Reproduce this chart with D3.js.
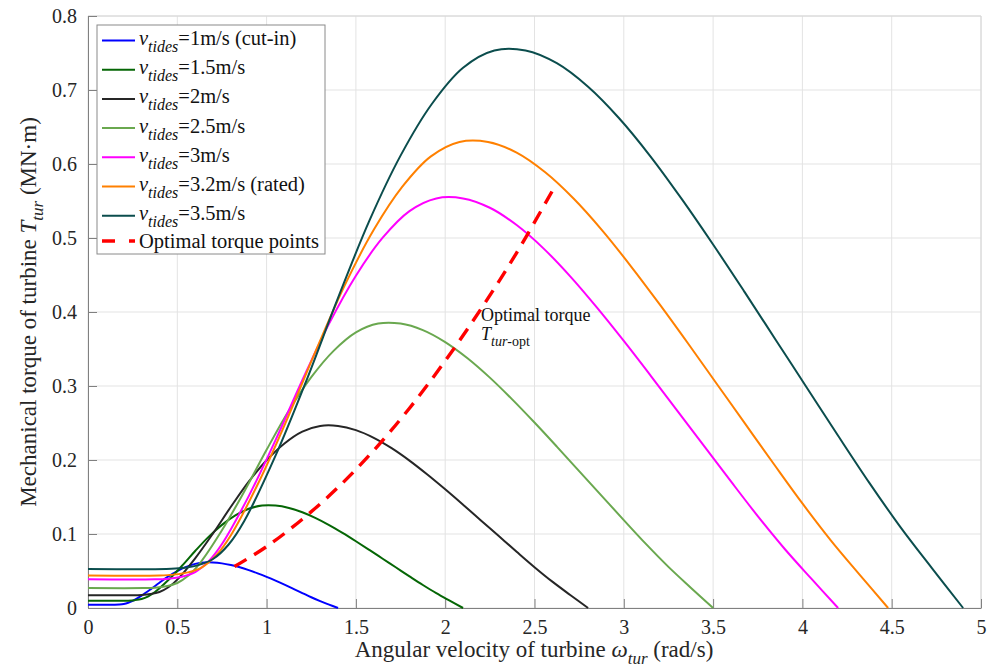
<!DOCTYPE html>
<html><head><meta charset="utf-8">
<script src="https://cdn.jsdelivr.net/npm/d3@7"></script>
<style>
body{margin:0;background:#fff;}
svg{display:block;}
</style></head><body>
<svg id="chart" width="991" height="668"></svg>
<script>
// Turbine torque curves T_tur(omega) for several tidal current speeds, [omega (rad/s), torque (MN·m)]
const curveV1 = [[0,0.0043],[0.125,0.0043],[0.15,0.0044],[0.175,0.0047],[0.2,0.0054],[0.225,0.0070],[0.25,0.0096],[0.3,0.0168],[0.35,0.0252],[0.4,0.0342],[0.45,0.0427],[0.5,0.0499],[0.55,0.0556],[0.6,0.0596],[0.65,0.0615],[0.7,0.0615],[0.75,0.0603],[0.8,0.0580],[0.85,0.0550],[0.9,0.0512],[0.95,0.0468],[1.0,0.0420],[1.05,0.0369],[1.1,0.0315],[1.15,0.0259],[1.2,0.0202],[1.25,0.0145],[1.3,0.0092],[1.35,0.0045],[1.4,0]];
const curveV15 = [[0,0.0097],[0.1875,0.0097],[0.225,0.0099],[0.2625,0.0106],[0.3,0.0122],[0.3375,0.0158],[0.375,0.0216],[0.45,0.0378],[0.525,0.0567],[0.6,0.0770],[0.675,0.0961],[0.75,0.1123],[0.825,0.1251],[0.9,0.1341],[0.975,0.1384],[1.05,0.1384],[1.125,0.1352],[1.2,0.1294],[1.275,0.1215],[1.35,0.1121],[1.425,0.1015],[1.5,0.0902],[1.575,0.0785],[1.65,0.0666],[1.725,0.0547],[1.8,0.0428],[1.875,0.0311],[1.95,0.0200],[2.025,0.0099],[2.1,0]];
const curveV2 = [[0,0.0172],[0.25,0.0172],[0.3,0.0176],[0.35,0.0188],[0.4,0.0216],[0.45,0.0280],[0.5,0.0384],[0.6,0.0672],[0.7,0.1008],[0.8,0.1368],[0.9,0.1708],[1.0,0.1996],[1.1,0.2224],[1.2,0.2384],[1.3,0.2460],[1.4,0.2460],[1.5,0.2404],[1.6,0.2300],[1.7,0.2160],[1.8,0.1992],[1.9,0.1804],[2.0,0.1604],[2.1,0.1396],[2.2,0.1184],[2.3,0.0972],[2.4,0.0760],[2.5,0.0552],[2.6,0.0356],[2.7,0.0176],[2.8,0]];
const curveV25 = [[0,0.0269],[0.3125,0.0269],[0.375,0.0275],[0.4375,0.0294],[0.5,0.0338],[0.5625,0.0438],[0.625,0.0600],[0.75,0.1050],[0.875,0.1575],[1.0,0.2138],[1.125,0.2669],[1.25,0.3119],[1.375,0.3475],[1.5,0.3725],[1.625,0.3844],[1.75,0.3844],[1.875,0.3756],[2.0,0.3594],[2.125,0.3375],[2.25,0.3113],[2.375,0.2819],[2.5,0.2506],[2.625,0.2181],[2.75,0.1850],[2.875,0.1519],[3.0,0.1188],[3.125,0.0863],[3.25,0.0556],[3.375,0.0275],[3.5,0]];
const curveV3 = [[0,0.0387],[0.375,0.0387],[0.45,0.0396],[0.525,0.0423],[0.6,0.0486],[0.675,0.0630],[0.75,0.0864],[0.9,0.1512],[1.05,0.2268],[1.2,0.3078],[1.35,0.3843],[1.5,0.4491],[1.65,0.5004],[1.8,0.5364],[1.95,0.5535],[2.1,0.5535],[2.25,0.5409],[2.4,0.5175],[2.55,0.4860],[2.7,0.4482],[2.85,0.4059],[3.0,0.3609],[3.15,0.3141],[3.3,0.2664],[3.45,0.2187],[3.6,0.1710],[3.75,0.1242],[3.9,0.0801],[4.05,0.0396],[4.2,0]];
const curveV32 = [[0,0.0440],[0.4,0.0440],[0.48,0.0451],[0.56,0.0481],[0.64,0.0553],[0.72,0.0717],[0.8,0.0983],[0.96,0.1720],[1.12,0.2581],[1.28,0.3502],[1.44,0.4373],[1.6,0.5110],[1.76,0.5693],[1.92,0.6103],[2.08,0.6298],[2.24,0.6298],[2.4,0.6154],[2.56,0.5888],[2.72,0.5530],[2.88,0.5100],[3.04,0.4618],[3.2,0.4106],[3.36,0.3574],[3.52,0.3031],[3.68,0.2488],[3.84,0.1946],[4.0,0.1413],[4.16,0.0911],[4.32,0.0451],[4.48,0]];
const curveV35 = [[0,0.0527],[0.4375,0.0527],[0.525,0.0539],[0.6125,0.0576],[0.7,0.0662],[0.7875,0.0858],[0.875,0.1176],[1.05,0.2058],[1.225,0.3087],[1.4,0.4190],[1.575,0.5231],[1.75,0.6113],[1.925,0.6811],[2.1,0.7301],[2.275,0.7534],[2.45,0.7534],[2.625,0.7362],[2.8,0.7044],[2.975,0.6615],[3.15,0.6101],[3.325,0.5525],[3.5,0.4912],[3.675,0.4275],[3.85,0.3626],[4.025,0.2977],[4.2,0.2328],[4.375,0.1691],[4.55,0.1090],[4.725,0.0539],[4.9,0]];

// Optimal torque trajectory
const optimalCurve = [[0.82,0.056],[1.0,0.083],[1.2,0.12],[1.4,0.163],[1.6,0.213],[1.8,0.27],[2.0,0.334],[2.2,0.404],[2.4,0.48],[2.61,0.568]];

const seriesData = [curveV1, curveV15, curveV2, curveV25, curveV3, curveV32, curveV35];
const speedLabels = ["=1m/s (cut-in)", "=1.5m/s", "=2m/s", "=2.5m/s", "=3m/s", "=3.2m/s (rated)", "=3.5m/s"];
const seriesColors = ["#0000ff", "#056605", "#262626", "#6aa84f", "#ff00ff", "#ff8000", "#0b4d4d"];
const optimalLabel = "Optimal torque points";

const xTicks = [0, 0.5, 1, 1.5, 2, 2.5, 3, 3.5, 4, 4.5, 5];
const yTicks = [0, 0.1, 0.2, 0.3, 0.4, 0.5, 0.6, 0.7, 0.8];

const serif = '"Liberation Serif", "Times New Roman", serif';
const svg = d3.select("#chart").attr("font-family", serif);
const plot = {left: 88, right: 981, top: 16, bottom: 608};

const x = d3.scaleLinear().domain([0, 5]).range([plot.left, plot.right]);
const y = d3.scaleLinear().domain([0, 0.8]).range([plot.bottom, plot.top]);

// grid
const grid = svg.append("g").attr("stroke", "#e3e3e3").attr("stroke-width", 1);
grid.selectAll("line.gx").data(xTicks).join("line")
  .attr("x1", d => x(d)).attr("x2", d => x(d))
  .attr("y1", plot.top).attr("y2", plot.bottom);
grid.selectAll("line.gy").data(yTicks).join("line")
  .attr("x1", plot.left).attr("x2", plot.right)
  .attr("y1", d => y(d)).attr("y2", d => y(d));

// light box on top and right
svg.append("path")
  .attr("d", `M${plot.left},${plot.top}H${plot.right}V${plot.bottom}`)
  .attr("fill", "none").attr("stroke", "#d6d6d6").attr("stroke-width", 1);

// axes with inward ticks
const fmt = d => String(d);
const xAxis = svg.append("g").attr("transform", `translate(0,${plot.bottom})`)
  .call(d3.axisBottom(x).tickValues(xTicks).tickFormat(fmt).tickSizeInner(-9).tickSizeOuter(0).tickPadding(12));
const yAxis = svg.append("g").attr("transform", `translate(${plot.left},0)`)
  .call(d3.axisLeft(y).tickValues(yTicks).tickFormat(fmt).tickSizeInner(-9).tickSizeOuter(0).tickPadding(11));
[xAxis, yAxis].forEach(a => {
  a.attr("font-family", serif).attr("font-size", 20);
  a.select(".domain").attr("stroke", "#808080");
  a.selectAll(".tick line").attr("stroke", "#808080");
  a.selectAll(".tick text").attr("fill", "#262626");
});

// curves
const line = d3.line().x(d => x(d[0])).y(d => y(d[1])).curve(d3.curveCatmullRom.alpha(0.5));
seriesData.forEach((s, i) => {
  svg.append("path").datum(s).attr("d", line)
    .attr("fill", "none").attr("stroke", seriesColors[i]).attr("stroke-width", 2);
});
svg.append("path").datum(optimalCurve).attr("d", line)
  .attr("fill", "none").attr("stroke", "#ff0000").attr("stroke-width", 3.4)
  .attr("stroke-dasharray", "14,9");

// annotation
const ann = svg.append("g").attr("fill", "#111");
ann.append("text").attr("x", 481).attr("y", 321).attr("font-size", 18).text("Optimal torque");
const annT = ann.append("text").attr("x", 481).attr("y", 340).attr("font-size", 18);
annT.append("tspan").attr("font-style", "italic").text("T");
annT.append("tspan").attr("dy", 6).attr("font-size", 14).attr("font-style", "italic").text("tur");
annT.append("tspan").attr("font-size", 14).text("-opt");

// axis titles
const xt = svg.append("text").attr("x", 534).attr("y", 657).attr("text-anchor", "middle")
  .attr("fill", "#262626").attr("font-size", 23);
xt.append("tspan").text("Angular velocity of turbine ");
xt.append("tspan").attr("font-style", "italic").text("ω");
xt.append("tspan").attr("dy", 7).attr("font-style", "italic").attr("font-size", 17).text("tur");
xt.append("tspan").attr("dy", -7).text(" (rad/s)");

const yt = svg.append("text").attr("transform", "translate(36,312) rotate(-90)").attr("text-anchor", "middle")
  .attr("fill", "#262626").attr("font-size", 23);
yt.append("tspan").text("Mechanical torque of turbine ");
yt.append("tspan").attr("font-style", "italic").text("T");
yt.append("tspan").attr("dy", 7).attr("font-style", "italic").attr("font-size", 17).text("tur");
yt.append("tspan").attr("dy", -7).text("  (MN·m)");

// legend
const leg = svg.append("g");
leg.append("rect").attr("x", 97).attr("y", 25).attr("width", 228).attr("height", 229)
  .attr("fill", "#fff").attr("stroke", "#8a8a8a").attr("stroke-width", 1);
seriesData.forEach((s, i) => {
  const cy = 40.5 + i * 29.2;
  leg.append("line").attr("x1", 102).attr("x2", 135).attr("y1", cy).attr("y2", cy)
    .attr("stroke", seriesColors[i]).attr("stroke-width", 2);
  const t = leg.append("text").attr("x", 139).attr("y", cy + 4.5).attr("fill", "#111").attr("font-size", 20.5);
  t.append("tspan").attr("font-style", "italic").text("ν");
  t.append("tspan").attr("dy", 7).attr("font-style", "italic").attr("font-size", 16).text("tides");
  t.append("tspan").attr("dy", -7).text(speedLabels[i]);
});
leg.append("line").attr("x1", 102).attr("x2", 135).attr("y1", 241).attr("y2", 241)
  .attr("stroke", "#ff0000").attr("stroke-width", 3.4).attr("stroke-dasharray", "13,14");
leg.append("text").attr("x", 139).attr("y", 247.5).attr("fill", "#111").attr("font-size", 20.5).text(optimalLabel);
</script></body></html>
